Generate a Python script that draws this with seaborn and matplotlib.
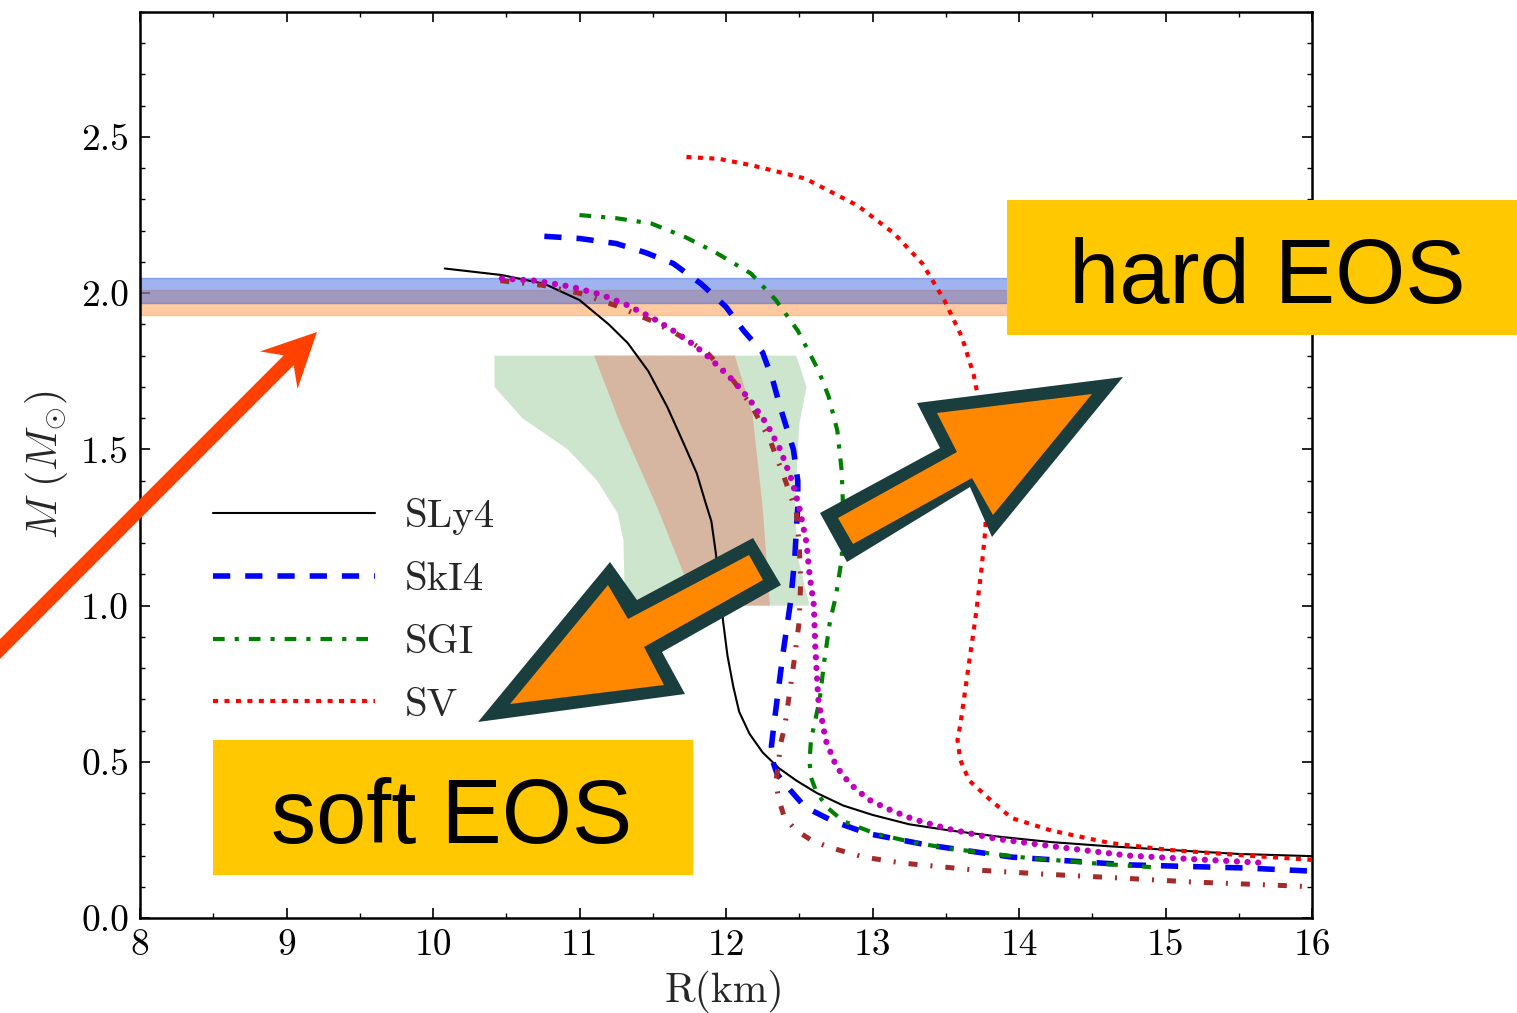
import numpy as np
import pandas as pd
import matplotlib
matplotlib.use("Agg")
import matplotlib.pyplot as plt
import seaborn as sns
from matplotlib.patches import Polygon, Rectangle
from matplotlib.ticker import MultipleLocator

# ---------------- data ----------------
sly4_R = [10.08, 10.47, 10.76, 11.00, 11.20, 11.33, 11.47, 11.60, 11.71, 11.80, 11.86, 11.90, 11.93,
          11.96, 11.98, 12.01, 12.05, 12.09, 12.16, 12.25, 12.36, 12.48, 12.62, 12.80, 13.00, 13.25,
          13.53, 13.87, 14.22, 14.60, 15.02, 15.50, 16.00]
sly4_M = [2.079, 2.058, 2.03, 1.978, 1.90, 1.84, 1.75, 1.635, 1.52, 1.424, 1.33, 1.27, 1.17,
          1.05, 0.95, 0.84, 0.74, 0.66, 0.59, 0.53, 0.48, 0.44, 0.40, 0.36, 0.33, 0.30,
          0.28, 0.26, 0.243, 0.23, 0.218, 0.205, 0.198]

ski4_R = [10.76, 11.00, 11.25, 11.45, 11.64, 11.83, 12.00, 12.12, 12.25, 12.32, 12.37, 12.42, 12.46,
          12.49, 12.49, 12.48, 12.47, 12.44, 12.39, 12.36, 12.33, 12.31, 12.32, 12.35, 12.40, 12.54,
          12.73, 12.97, 13.37, 13.95, 14.75, 15.55, 16.00]
ski4_M = [2.182, 2.175, 2.159, 2.13, 2.095, 2.03, 1.956, 1.88, 1.81, 1.72, 1.635, 1.56, 1.50,
          1.40, 1.315, 1.24, 1.155, 1.01, 0.85, 0.74, 0.63, 0.55, 0.50, 0.46, 0.43, 0.355,
          0.31, 0.27, 0.234, 0.195, 0.17, 0.16, 0.15]

sgi_R = [11.00, 11.25, 11.49, 11.72, 11.93, 12.17, 12.34, 12.49, 12.63, 12.70, 12.76, 12.79, 12.80,
         12.79, 12.75, 12.71, 12.67, 12.64, 12.58, 12.57, 12.58, 12.62, 12.70, 12.80, 13.02, 13.25,
         13.50, 14.00, 14.48, 14.90]
sgi_M = [2.25, 2.24, 2.223, 2.18, 2.13, 2.063, 1.978, 1.88, 1.754, 1.67, 1.56, 1.43, 1.30,
         1.15, 1.03, 0.95, 0.82, 0.70, 0.57, 0.50, 0.45, 0.40, 0.35, 0.31, 0.27, 0.245,
         0.224, 0.195, 0.176, 0.163]

sv_R = [11.73, 11.95, 12.17, 12.54, 12.90, 13.15, 13.34, 13.49, 13.61, 13.69, 13.74, 13.77, 13.78,
        13.77, 13.74, 13.70, 13.66, 13.63, 13.60, 13.58, 13.60, 13.66, 13.80, 13.95, 14.22, 14.62,
        15.02, 15.55, 16.00]
sv_M = [2.436, 2.43, 2.41, 2.367, 2.28, 2.19, 2.095, 1.978, 1.86, 1.74, 1.62, 1.50, 1.37,
        1.24, 1.10, 0.95, 0.82, 0.72, 0.62, 0.57, 0.505, 0.44, 0.38, 0.32, 0.28, 0.24,
        0.218, 0.20, 0.186]

mag_R = [10.47, 10.70, 10.95, 11.15, 11.32, 11.50, 11.64, 11.78, 11.88, 12.05, 12.16, 12.28, 12.37,
         12.45, 12.50, 12.55, 12.57, 12.60, 12.61, 12.63, 12.68, 12.74, 12.79, 12.87, 12.97, 13.10,
         13.28, 13.52, 13.85, 14.27, 14.74, 15.20, 15.69]
mag_M = [2.047, 2.04, 2.02, 1.995, 1.963, 1.92, 1.88, 1.835, 1.796, 1.72, 1.66, 1.58, 1.50,
         1.40, 1.315, 1.20, 1.10, 1.00, 0.86, 0.70, 0.57, 0.50, 0.46, 0.42, 0.38, 0.35,
         0.316, 0.285, 0.253, 0.227, 0.20, 0.188, 0.176]

brn_R = [10.46, 10.75, 11.00, 11.25, 11.50, 11.70, 11.87, 12.05, 12.18, 12.30, 12.39, 12.48, 12.50,
         12.51, 12.50, 12.47, 12.44, 12.40, 12.37, 12.36, 12.34, 12.36, 12.40, 12.48, 12.58, 12.70,
         12.94, 13.20, 13.69, 14.19, 14.69, 15.19, 15.70, 16.00]
brn_M = [2.04, 2.025, 2.00, 1.96, 1.91, 1.86, 1.81, 1.72, 1.635, 1.53, 1.42, 1.30, 1.19,
         1.08, 0.95, 0.84, 0.74, 0.61, 0.553, 0.50, 0.435, 0.38, 0.32, 0.28, 0.25, 0.227,
         0.195, 0.176, 0.154, 0.14, 0.128, 0.115, 0.106, 0.10]

# constraint regions (polygons: left edge upward, right edge downward)
green_R = [11.31, 11.30, 11.26, 11.12, 10.92, 10.61, 10.42, 10.42,
           12.48, 12.55, 12.50, 12.47, 12.49, 12.57]
green_M = [1.00, 1.21, 1.296, 1.40, 1.50, 1.60, 1.70, 1.80,
           1.80, 1.70, 1.58, 1.315, 1.155, 1.00]
brown_R = [11.75, 11.71, 11.53, 11.28, 11.10,
           12.06, 12.18, 12.25, 12.30]
brown_M = [1.00, 1.104, 1.315, 1.58, 1.80,
           1.80, 1.616, 1.315, 1.00]

# pulsar mass bands
band_orange = (1.93, 2.01)
band_blue = (1.97, 2.05)

legend_labels = ["SLy4", "SkI4", "SGI", "SV"]
x_ticks = [8, 9, 10, 11, 12, 13, 14, 15, 16]
x_ticklabels = ["8", "9", "10", "11", "12", "13", "14", "15", "16"]
y_ticks = [0.0, 0.5, 1.0, 1.5, 2.0, 2.5]
y_ticklabels = ["0.0", "0.5", "1.0", "1.5", "2.0", "2.5"]

# ---------------- style ----------------
sns.set_style("ticks")
plt.rcParams["font.family"] = ["cmr10", "DejaVu Serif"]
plt.rcParams["mathtext.fontset"] = "cm"
plt.rcParams["axes.formatter.use_mathtext"] = True
plt.rcParams["axes.unicode_minus"] = False

W, H = 1517, 1013
fig = plt.figure(figsize=(W / 100, H / 100), dpi=100)
ax = fig.add_axes([140 / W, 1 - 918 / H, 1172 / W, 906 / H])

def fx(x):
    return x / W

def fy(y):
    return 1 - y / H

# bands & regions
ax.axhspan(*band_orange, color="#ff9741", alpha=0.5, zorder=1)
ax.axhspan(*band_blue, color="royalblue", alpha=0.5, zorder=1.1)
ax.fill(green_R, green_M, color="#cde5cc", lw=0, zorder=0.5)
ax.fill(brown_R, brown_M, color="#d6b6a0", lw=0, zorder=0.6)

# curves
sns.lineplot(x=sly4_R, y=sly4_M, sort=False, estimator=None, color="black", lw=1.5,
             ax=ax, legend=False, zorder=3)
sns.lineplot(x=ski4_R, y=ski4_M, sort=False, estimator=None, color="#0000ff", lw=4,
             linestyle=(0, (3.1, 2.7)), ax=ax, legend=False, zorder=3)
sns.lineplot(x=sgi_R, y=sgi_M, sort=False, estimator=None, color="#008000", lw=3,
             linestyle=(0, (2.8, 2.4, 1.0, 2.4)), ax=ax, legend=False, zorder=3)
sns.lineplot(x=sv_R, y=sv_M, sort=False, estimator=None, color="#ff0000", lw=3,
             linestyle=(0, (1.2, 1.55)), ax=ax, legend=False, zorder=3)
sns.lineplot(x=brn_R, y=brn_M, sort=False, estimator=None, color="#a52a2a", lw=3.6,
             linestyle=(0, (1.8, 2.6, 0.4, 2.6)), ax=ax, legend=False, zorder=3)
sns.lineplot(x=mag_R, y=mag_M, sort=False, estimator=None, color="#bf00bf", lw=4.5,
             linestyle=(0, (0.01, 1.7)), dash_capstyle="round", ax=ax, legend=False, zorder=3.1)

ax.set_xlim(8, 16)
ax.set_ylim(0, 2.9)
ax.set_xticks(x_ticks)
ax.set_xticklabels(x_ticklabels)
ax.set_yticks(y_ticks)
ax.set_yticklabels(y_ticklabels)
ax.xaxis.set_minor_locator(MultipleLocator(0.5))
ax.yaxis.set_minor_locator(MultipleLocator(0.1))
ax.tick_params(which="both", direction="in", top=True, right=True, colors="black",
               labelsize=27, pad=8)
ax.tick_params(which="major", length=7, width=1.2)
ax.tick_params(which="minor", length=3.5, width=1.0)
for s in ax.spines.values():
    s.set_linewidth(1.8)
    s.set_color("black")

ax.set_xlabel("R(km)", fontsize=30)
ax.set_ylabel(r"$M\ (M_{\odot})$", fontsize=30)
ax.xaxis.set_label_coords(0.499, -0.057)
ax.yaxis.set_label_coords(-0.06, 0.5)

ax.legend(handles=ax.lines[:4], labels=legend_labels, loc="upper left",
          bbox_to_anchor=(0.0623, 0.4635), frameon=False, fontsize=29.5,
          handlelength=3.95, handletextpad=0.73, labelspacing=0.64,
          borderpad=0, borderaxespad=0)

# ---------------- annotations (figure level) ----------------
def poly(points, color, z):
    p = Polygon([(fx(x), fy(y)) for x, y in points], closed=True, facecolor=color,
                edgecolor="none", transform=fig.transFigure, zorder=z)
    fig.patches.append(p)

# yellow boxes
fig.patches.append(Rectangle((fx(1007), fy(335)), (1517 - 1007) / W, (335 - 200) / H,
                             facecolor="#ffc800", edgecolor="none",
                             transform=fig.transFigure, zorder=5))
fig.patches.append(Rectangle((fx(213), fy(875)), (693 - 213) / W, (875 - 740) / H,
                             facecolor="#ffc800", edgecolor="none",
                             transform=fig.transFigure, zorder=5))
fig.text(fx(1267), fy(303), "hard EOS", fontsize=65, family="Liberation Sans",
         ha="center", va="baseline", color="black", zorder=6)
fig.text(fx(452), fy(843), "soft EOS", fontsize=65, family="Liberation Sans",
         ha="center", va="baseline", color="black", zorder=6)

# orange double arrows
dark = "#1a3d3d"
orange = "#ff8800"
poly([(820, 513), (940, 448), (917, 403), (1123, 377), (992, 537), (970, 487), (847, 562)], dark, 7)
poly([(838, 518), (957, 452), (937, 413), (1092, 394), (993, 515), (972, 478), (853, 544)], orange, 8)
poly([(753, 538), (637, 600), (610, 562), (478, 722), (685, 694), (662, 652), (781, 585)], dark, 7)
poly([(749, 555), (628, 619), (608, 585), (510, 704), (664, 685), (644, 647), (763, 580)], orange, 8)

# red arrow
T = np.array([317.0, 332.0])
u = np.array([0.7071, -0.7071])
n = np.array([0.7071, 0.7071])
S = T - 480 * u
hw = 7.0
pts = [S - hw * n, T - 40 * u - hw * n, T - 54 * u - 26.5 * n, T,
       T - 54 * u + 26.5 * n, T - 40 * u + hw * n, S + hw * n]
poly([tuple(p) for p in pts], "#ff4000", 7)

fig.savefig("out.png", dpi=100)
